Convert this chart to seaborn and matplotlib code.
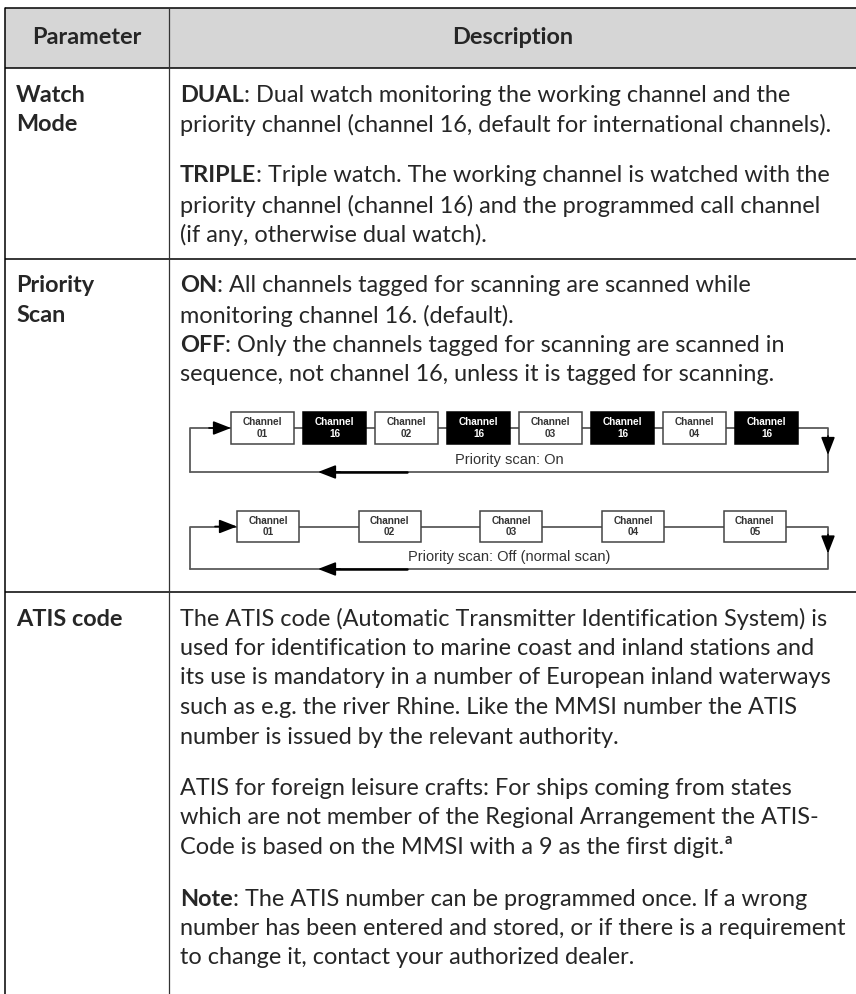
import matplotlib
matplotlib.use("Agg")
import matplotlib.pyplot as plt
from matplotlib.patches import Rectangle
import seaborn as sns

sns.set_theme(style="white")
plt.rcParams['font.family'] = ['Lato', 'DejaVu Sans']

# ---- table content ----
headers = ["Parameter", "Description"]
param_names = [["Watch", "Mode"], ["Priority", "Scan"], ["ATIS code"]]

watch_mode_text = [
    [("DUAL", ": Dual watch monitoring the working channel and the"),
     ("", "priority channel (channel 16, default for international channels).")],
    [("TRIPLE", ": Triple watch. The working channel is watched with the"),
     ("", "priority channel (channel 16) and the programmed call channel"),
     ("", "(if any, otherwise dual watch).")],
]
priority_scan_text = [
    [("ON", ": All channels tagged for scanning are scanned while"),
     ("", "monitoring channel 16. (default)."),
     ("OFF", ": Only the channels tagged for scanning are scanned in"),
     ("", "sequence, not channel 16, unless it is tagged for scanning.")],
]
atis_text = [
    [("", "The ATIS code (Automatic Transmitter Identification System) is"),
     ("", "used for identification to marine coast and inland stations and"),
     ("", "its use is mandatory in a number of European inland waterways"),
     ("", "such as e.g. the river Rhine. Like the MMSI number the ATIS"),
     ("", "number is issued by the relevant authority.")],
    [("", "ATIS for foreign leisure crafts: For ships coming from states"),
     ("", "which are not member of the Regional Arrangement the ATIS-"),
     ("", "Code is based on the MMSI with a 9 as the first digit.")],
    [("Note", ": The ATIS number can be programmed once. If a wrong"),
     ("", "number has been entered and stored, or if there is a requirement"),
     ("", "to change it, contact your authorized dealer.")],
]
footnote_mark = "a"

scan_on_channels = ["01", "16", "02", "16", "03", "16", "04", "16"]
scan_on_priority = [False, True, False, True, False, True, False, True]
scan_off_channels = ["01", "02", "03", "04", "05"]
scan_labels = ["Priority scan: On", "Priority scan: Off (normal scan)"]

# ---- layout (pixels) ----
W, H = 856, 994
x_left, x_div, x_right = 5, 169, 856
row_edges = [8, 68, 259, 592]
line_step = 29.5
para_gap = 22
first_offset = 27
fs = 16.9
text_x = 180

fig = plt.figure(figsize=(W / 100, H / 100), dpi=100)
ax = fig.add_axes([0, 0, 1, 1])
ax.set_xlim(0, W)
ax.set_ylim(H, 0)
ax.axis('off')
renderer = fig.canvas.get_renderer()

# header
ax.add_patch(Rectangle((x_left, row_edges[0]), x_right - x_left, row_edges[1] - row_edges[0],
                       facecolor='#d6d6d6', edgecolor='none', zorder=0))
hy = (row_edges[0] + row_edges[1]) / 2
ax.text((x_left + x_div) / 2, hy, headers[0], ha='center', va='center', fontsize=fs, fontweight='bold')
ax.text((x_div + x_right) / 2, hy, headers[1], ha='center', va='center', fontsize=fs, fontweight='bold')

# grid lines
for y in row_edges:
    ax.plot([x_left, x_right], [y, y], color='black', lw=1.1, solid_capstyle='butt')
ax.plot([x_left, x_left], [row_edges[0], H], color='black', lw=1.1)
ax.plot([x_div, x_div], [row_edges[0], H], color='#333333', lw=0.9)


def draw_line(x, y, bold, regular):
    if bold:
        t = ax.text(x, y, bold, ha='left', va='center', fontsize=fs, fontweight='bold')
        x += t.get_window_extent(renderer=renderer).width
    return ax.text(x, y, regular, ha='left', va='center', fontsize=fs)


def draw_paragraphs(paras, y0):
    y = y0
    drawn = []
    for i, para in enumerate(paras):
        if i > 0:
            y += para_gap
        for bold, regular in para:
            drawn.append(draw_line(text_x, y, bold, regular))
            y += line_step
    return drawn


# parameter names
for r, names in enumerate(param_names):
    for k, name in enumerate(names):
        ax.text(16, row_edges[r + 1] + first_offset + k * line_step, name,
                ha='left', va='center', fontsize=fs, fontweight='bold')

draw_paragraphs(watch_mode_text, row_edges[1] + first_offset)
draw_paragraphs(priority_scan_text, row_edges[2] + first_offset)
atis_drawn = draw_paragraphs(atis_text, row_edges[3] + first_offset)

# footnote mark after "digit."
mark_line = atis_drawn[len(atis_text[0]) + len(atis_text[1]) - 1]
bb = mark_line.get_window_extent(renderer=renderer)
mx, my = mark_line.get_position()
ax.text(mx + bb.width + 1, my - 8, footnote_mark, ha='left', va='center',
        fontsize=10.5, fontweight='bold')

# ---- scan diagrams ----
diag_font = ['Liberation Sans', 'DejaVu Sans']
line_col = '#5a5a5a'


def arrow(x0, y0, x1, y1):
    ax.annotate('', xy=(x1, y1), xytext=(x0, y0),
                arrowprops=dict(arrowstyle='-|>,head_length=0.9,head_width=0.35',
                                color='black', lw=1.2, shrinkA=0, shrinkB=0))


def draw_diagram(channels, priority, box_top, box_h, x0, box_w, pitch, bottom, label):
    cy = box_top + box_h / 2
    xl, xr = 190, 828
    ax.plot([xl, xl, x0], [bottom, cy, cy], color=line_col, lw=1.3)
    arrow(x0 - 22, cy, x0, cy)
    xs = [x0 + i * pitch for i in range(len(channels))]
    for i in range(len(xs) - 1):
        ax.plot([xs[i] + box_w, xs[i + 1]], [cy, cy], color=line_col, lw=1.3)
    x_end = xs[-1] + box_w
    ax.plot([x_end, xr, xr, xl], [cy, cy, bottom, bottom], color=line_col, lw=1.3)
    arrow(xr, cy + 8, xr, cy + 27)
    ax.plot([330, 407], [bottom, bottom], color='black', lw=1.8)
    arrow(340, bottom, 318, bottom)
    for x, ch, pr in zip(xs, channels, priority):
        ax.add_patch(Rectangle((x, box_top), box_w, box_h,
                               facecolor='black' if pr else 'white',
                               edgecolor='black' if pr else '#444444', lw=1.1, zorder=3))
        ax.text(x + box_w / 2, cy, "Channel\n" + ch, ha='center', va='center',
                fontsize=7.2, fontweight='bold', family=diag_font, linespacing=1.2,
                color='white' if pr else '#333333', zorder=4)
    ax.text(509, bottom - 12, label, ha='center', va='center', fontsize=10.5,
            family=diag_font, color='#333333')


draw_diagram(scan_on_channels, scan_on_priority, 412, 32, 231, 63, 72, 472, scan_labels[0])
draw_diagram(scan_off_channels, [False] * len(scan_off_channels), 511, 31, 237, 62, 121.7, 569,
             scan_labels[1])

fig.savefig("out.png", dpi=100)
